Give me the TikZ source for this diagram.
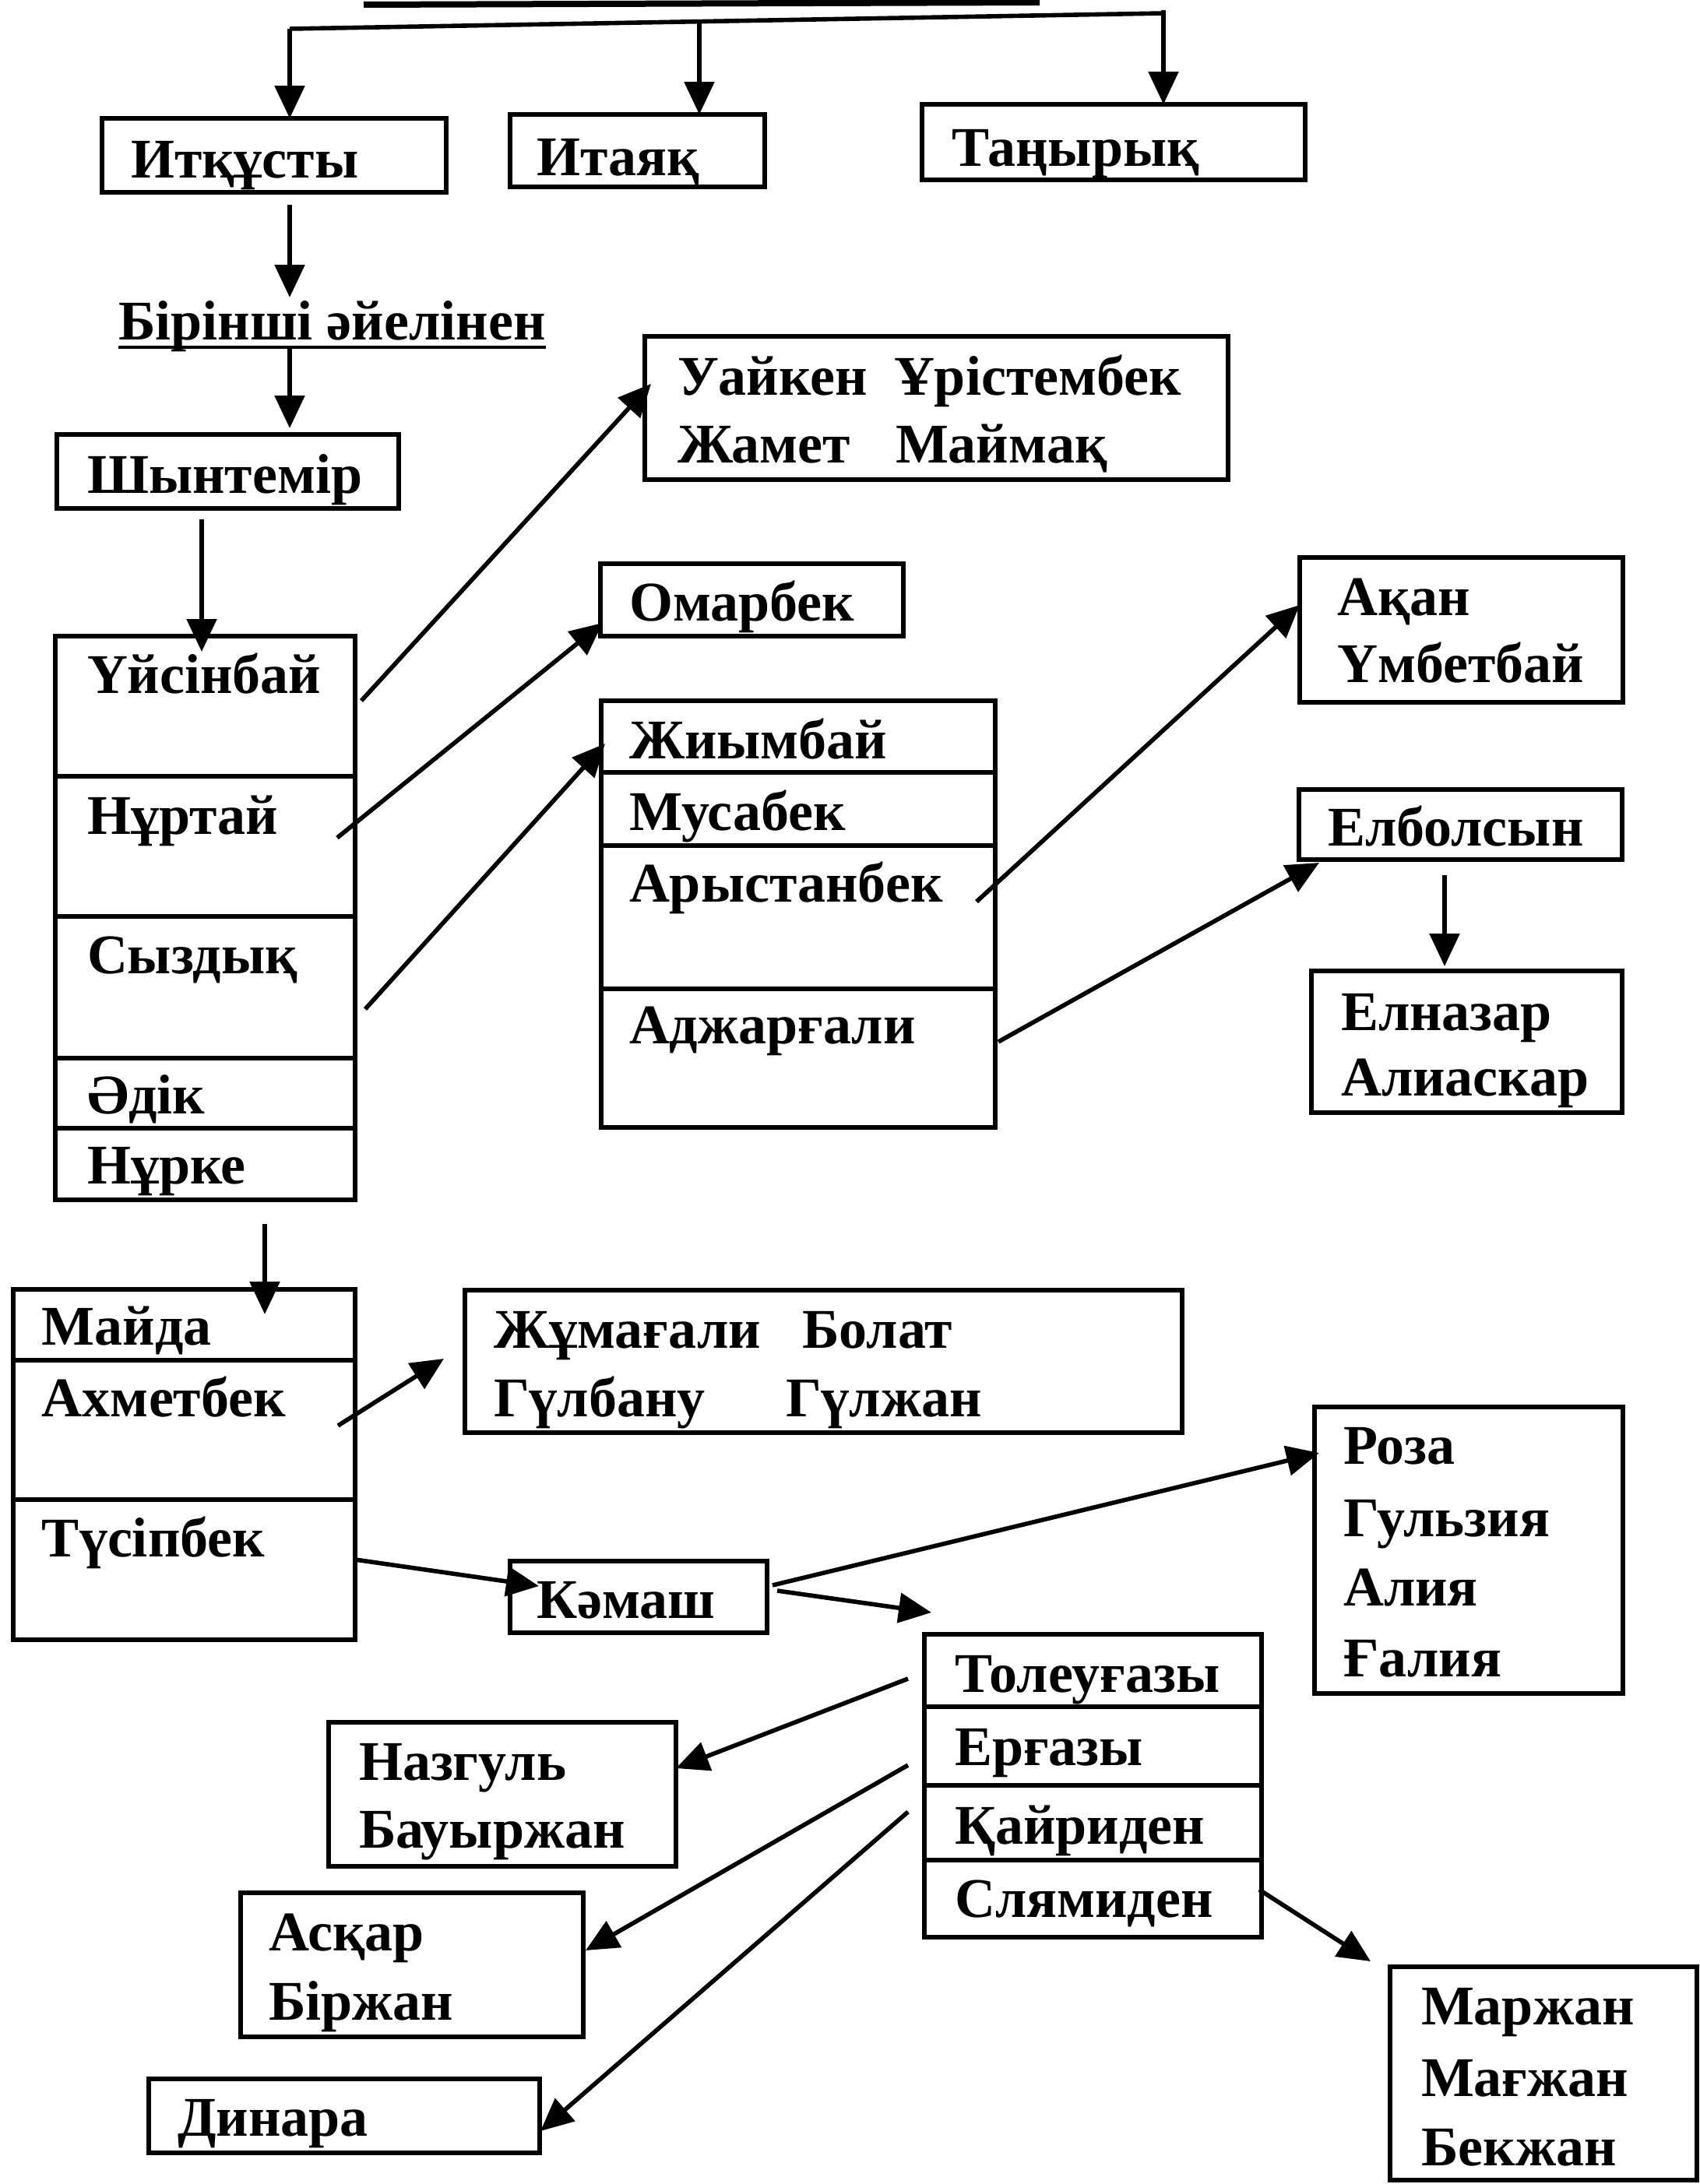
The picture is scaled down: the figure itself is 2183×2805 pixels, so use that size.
\documentclass[tikz,border=0pt]{standalone}
\usepackage{fontspec}
\setmainfont{Liberation Serif}
\usetikzlibrary{arrows.meta,calc}
\newcommand{\mkbox}[5]{\node[box, minimum width={(#4-#2)*0.5pt}, minimum height={(#5-#3)*0.5pt}] (#1) at (#2,#3) {};}
\newcommand{\mktext}[4]{\node[txt] (#1) at (#2,#3) {#4};}
\begin{document}
\begin{tikzpicture}[x=0.5pt,y=-0.5pt,
  box/.style={draw, line width=2.8pt, inner sep=0pt, outer sep=0pt, anchor=north west},
  txt/.style={anchor=base west, inner sep=0pt, outer sep=0pt, font=\fontsize{36}{40}\selectfont\bfseries},
  arr/.style={line width=2.8pt, -{Triangle[length=21pt,width=19pt]}},
  bar/.style={line width=2.8pt}]
\useasboundingbox (0,0) rectangle (2183,2805);

% boxes
\mkbox{itk}{131}{152}{573}{247}
\mkbox{itay}{655}{147}{982}{240}
\mkbox{tany}{1184}{134}{1676}{231}
\mkbox{shyn}{73}{558}{512}{653}
\mkbox{uaik}{828}{432}{1577}{616}
\mkbox{omar}{771}{724}{1160}{817}
\mkbox{uys}{71}{817}{456}{997}
\mkbox{nurt}{71}{997}{456}{1177}
\mkbox{syz}{71}{1177}{456}{1359}
\mkbox{adik}{71}{1359}{456}{1449}
\mkbox{nurke}{71}{1449}{456}{1541}
\mkbox{zhiym}{772}{900}{1278}{992}
\mkbox{musa}{772}{992}{1278}{1086}
\mkbox{arys}{772}{1086}{1278}{1270}
\mkbox{adzh}{772}{1270}{1278}{1448}
\mkbox{akan}{1669}{716}{2084}{902}
\mkbox{elbol}{1668}{1014}{2083}{1104}
\mkbox{elnaz}{1684}{1247}{2083}{1429}
\mkbox{maida}{17}{1656}{456}{1747}
\mkbox{akhm}{17}{1747}{456}{1926}
\mkbox{tusip}{17}{1926}{456}{2106}
\mkbox{zhum}{597}{1657}{1518}{1840}
\mkbox{kamash}{655}{2005}{985}{2097}
\mkbox{roza}{1688}{1807}{2084}{2175}
\mkbox{tol}{1187}{2099}{1620}{2192}
\mkbox{erg}{1187}{2192}{1620}{2293}
\mkbox{kair}{1187}{2293}{1620}{2389}
\mkbox{slyam}{1187}{2389}{1620}{2488}
\mkbox{nazg}{422}{2212}{868}{2397}
\mkbox{askar}{309}{2431}{749}{2616}
\mkbox{dinara}{191}{2670}{693}{2765}
\mkbox{marzh}{1785}{2526}{2179}{2800}

% texts
\mktext{t-itk}{168}{228}{Итқұсты}
\mktext{t-itay}{689}{225}{Итаяқ}
\mktext{t-tany}{1222}{213}{Таңырық}
\mktext{birinshi}{152}{436}{Бірінші әйелінен}
\mktext{t-shyn}{112}{633}{Шынтемір}
\mktext{t-uaik1}{870}{507}{Уайкен}
\mktext{t-uaik2}{1148}{507}{Ұрістембек}
\mktext{t-uaik3}{870}{594}{Жамет}
\mktext{t-uaik4}{1150}{594}{Маймақ}
\mktext{t-omar}{808}{797}{Омарбек}
\mktext{t-uys}{112}{890}{Үйсінбай}
\mktext{t-nurt}{112}{1071}{Нұртай}
\mktext{t-syz}{112}{1250}{Сыздық}
\mktext{t-adik}{112}{1430}{Әдік}
\mktext{t-nurke}{112}{1520}{Нұрке}
\mktext{t-zhiym}{808}{974}{Жиымбай}
\mktext{t-musa}{808}{1066}{Мусабек}
\mktext{t-arys}{808}{1158}{Арыстанбек}
\mktext{t-adzh}{808}{1340}{Аджарғали}
\mktext{t-akan1}{1717}{790}{Ақан}
\mktext{t-akan2}{1717}{876}{Үмбетбай}
\mktext{t-elbol}{1705}{1086}{Елболсын}
\mktext{t-elnaz1}{1722}{1323}{Елназар}
\mktext{t-elnaz2}{1722}{1407}{Алиаскар}
\mktext{t-maida}{54}{1727}{Майда}
\mktext{t-akhm}{54}{1819}{Ахметбек}
\mktext{t-tusip}{54}{1999}{Түсіпбек}
\mktext{t-zhum1}{634}{1731}{Жұмағали}
\mktext{t-zhum2}{1030}{1731}{Болат}
\mktext{t-zhum3}{634}{1819}{Гүлбану}
\mktext{t-zhum4}{1009}{1819}{Гүлжан}
\mktext{t-kamash}{689}{2078}{Кәмаш}
\mktext{t-roza1}{1725}{1880}{Роза}
\mktext{t-roza2}{1725}{1973}{Гульзия}
\mktext{t-roza3}{1725}{2062}{Алия}
\mktext{t-roza4}{1725}{2153}{Ғалия}
\mktext{t-tol}{1226}{2173}{Толеуғазы}
\mktext{t-erg}{1226}{2267}{Ерғазы}
\mktext{t-kair}{1226}{2368}{Қайриден}
\mktext{t-slyam}{1226}{2462}{Слямиден}
\mktext{t-nazg1}{461}{2286}{Назгуль}
\mktext{t-nazg2}{461}{2373}{Бауыржан}
\mktext{t-askar1}{345}{2505}{Асқар}
\mktext{t-askar2}{345}{2594}{Біржан}
\mktext{t-dinara}{228}{2743}{Динара}
\mktext{t-marzh1}{1825}{2600}{Маржан}
\mktext{t-marzh2}{1825}{2692}{Мағжан}
\mktext{t-marzh3}{1825}{2781}{Бекжан}

% top rule and bar
\draw[line width=4pt] (467,6) -- (1335,3);
\coordinate (bl) at (372,37);
\coordinate (br) at (1494,17);
\coordinate (bm) at ($(bl)!0.4688!(br)$);
\coordinate (vx) at (372,0);
\draw[bar] (bl) -- (br);
\draw[arr] (bl) -- (bl |- itk.north);
\draw[arr] (bm) -- (bm |- itay.north);
\draw[arr] ($(br)+(0,-4)$) -- (br |- tany.north);

% underline
\draw[line width=2.2pt] ($(birinshi.base west)+(0,10)$) -- ($(birinshi.base east)+(0,10)$);

% vertical arrows
\draw[arr] ($(vx |- itk.south)+(0,16)$) -- ($(vx |- birinshi.base)+(0,-54)$);
\draw[arr] ($(vx |- birinshi.base)+(0,10)$) -- ($(vx |- shyn.north)+(0,-8)$);
\draw[arr] ($(shyn.south west)+(186,14)$) -- ($(uys.north west)+(188,20)$);
\draw[arr] ($(elbol.south west)+(187,20)$) -- ($(elnaz.north west)+(171,-6)$);
\draw[arr] ($(nurke.south west)+(269,31)$) -- ($(maida.north west)+(323,32)$);

% diagonal arrows
\draw[arr] ($(uys.north east)+(8,83)$) -- ($(uaik.north west)+(8,61)$);
\draw[arr] ($(nurt.north east)+(-23,79)$) -- ($(omar.south west)+(3,-17)$);
\draw[arr] ($(syz.north east)+(13,119)$) -- ($(zhiym.north west)+(5,55)$);
\draw[arr] ($(arys.north east)+(-24,72)$) -- ($(akan.north west)+(0,61)$);
\draw[arr] ($(adzh.north east)+(4,68)$) -- ($(elbol.south west)+(26,4)$);
\draw[arr] ($(akhm.north east)+(-22,84)$) -- ($(zhum.north west)+(-27,88)$);
\draw[arr] ($(tusip.north east)+(0,77)$) -- ($(kamash.north west)+(37,32)$);
\draw[arr] ($(kamash.north east)+(7,31)$) -- ($(roza.north west)+(6,59)$);
\draw[arr] ($(kamash.north east)+(13,38)$) -- ($(tol.north west)+(9,-28)$);
\draw[arr] ($(tol.north west)+(-21,57)$) -- ($(nazg.north east)+(0,59)$);
\draw[arr] ($(erg.north west)+(-21,75)$) -- ($(askar.north east)+(3,74)$);
\draw[arr] ($(kair.north west)+(-21,34)$) -- ($(dinara.north east)+(1,67)$);
\draw[arr] ($(slyam.north east)+(-3,38)$) -- ($(marzh.north west)+(-25,-7)$);
\end{tikzpicture}
\end{document}
